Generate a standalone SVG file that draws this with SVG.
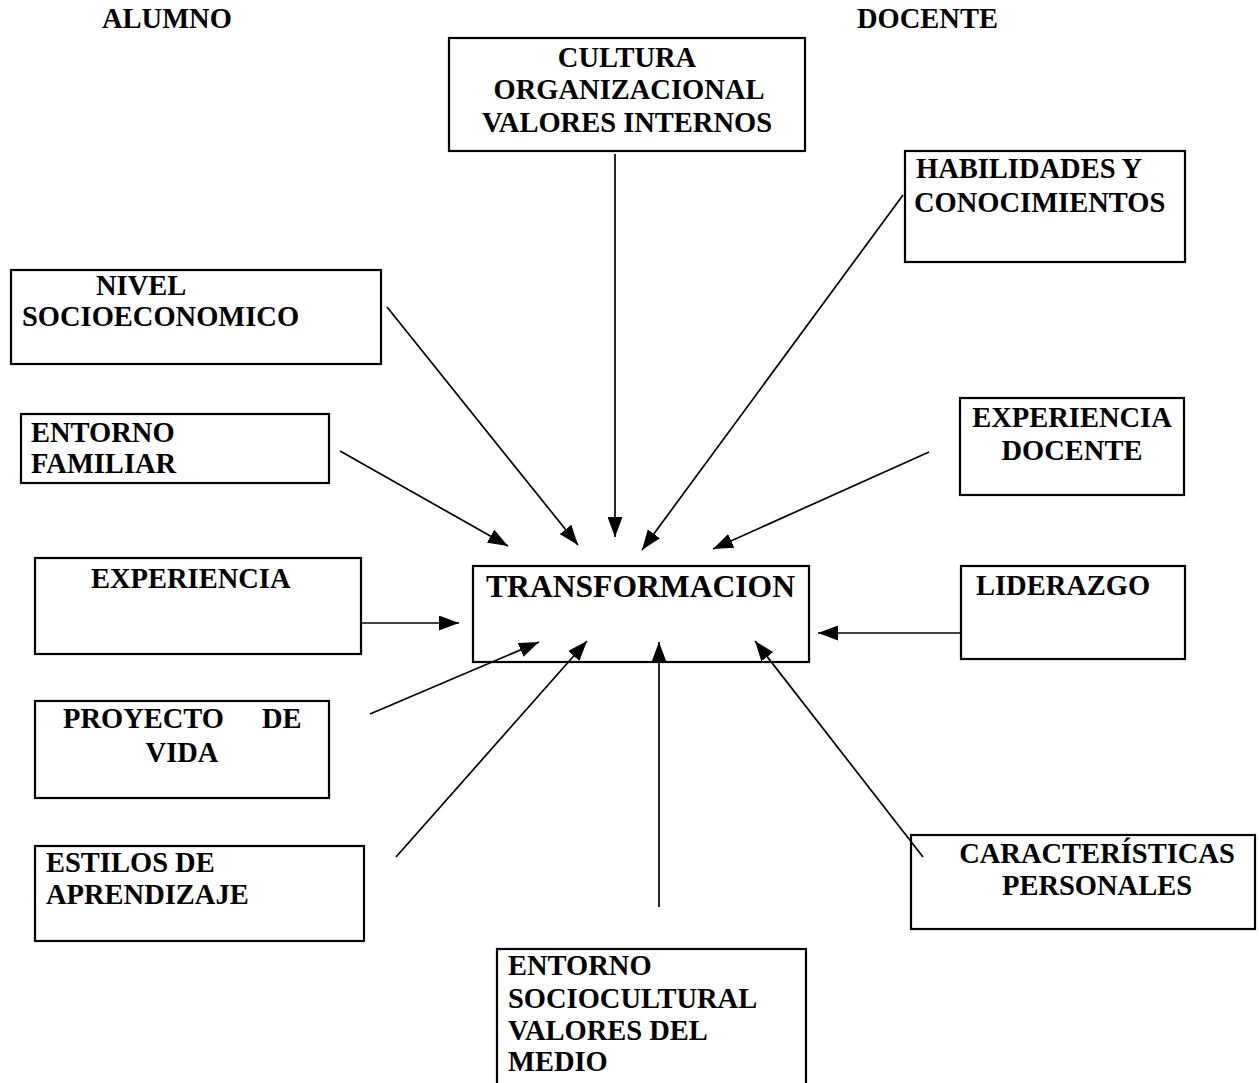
<svg xmlns="http://www.w3.org/2000/svg" width="1259" height="1083" viewBox="0 0 1259 1083">
<style>
.box{fill:#fff;stroke:#000;stroke-width:2.2}
.t{font-family:"Liberation Serif","Times New Roman",serif;font-weight:bold;font-size:28.5px;fill:#000}
.m{text-anchor:middle}
.c{stroke:#000;stroke-width:1.7;fill:none;marker-end:url(#ah)}
</style>
<defs>
<marker id="ah" viewBox="0 0 20 15" refX="20" refY="7.5" markerWidth="20" markerHeight="15" markerUnits="userSpaceOnUse" orient="auto">
<path d="M0,0 L20,7.5 L0,15 z" fill="#000"/>
</marker>
</defs>
<rect width="1259" height="1083" fill="#fff"/>
<text class="t" x="102" y="28">ALUMNO</text>
<text class="t" x="857" y="28">DOCENTE</text>
<g id="cultura"><rect class="box" x="449" y="38" width="356" height="113"/>
<text class="t m" x="627" y="67">CULTURA</text><text class="t m" x="629" y="99">ORGANIZACIONAL</text><text class="t m" x="627" y="132">VALORES INTERNOS</text></g>
<g id="habilidades"><rect class="box" x="905" y="151" width="280" height="111"/>
<text class="t" x="916" y="178">HABILIDADES Y</text><text class="t" x="914" y="212">CONOCIMIENTOS</text></g>
<g id="nivel"><rect class="box" x="11" y="270" width="370" height="94"/>
<text class="t" x="96" y="295">NIVEL</text><text class="t" x="22" y="326">SOCIOECONOMICO</text></g>
<g id="familiar"><rect class="box" x="21" y="414" width="308" height="69"/>
<text class="t" x="31" y="442">ENTORNO</text><text class="t" x="31" y="473">FAMILIAR</text></g>
<g id="expdocente"><rect class="box" x="960" y="398" width="224" height="97"/>
<text class="t m" x="1072" y="427">EXPERIENCIA</text><text class="t m" x="1072" y="460">DOCENTE</text></g>
<g id="experiencia"><rect class="box" x="35" y="558" width="326" height="96"/>
<text class="t" x="91" y="588">EXPERIENCIA</text></g>
<g id="transformacion"><rect class="box" x="473" y="566" width="336" height="96"/>
<text class="t" x="486" y="597" style="font-size:31.5px" textLength="309" lengthAdjust="spacingAndGlyphs">TRANSFORMACION</text></g>
<g id="liderazgo"><rect class="box" x="961" y="566" width="224" height="93"/>
<text class="t" x="976" y="595">LIDERAZGO</text></g>
<g id="proyecto"><rect class="box" x="35" y="701" width="294" height="97"/>
<text class="t" x="63" y="728">PROYECTO</text><text class="t" x="262" y="728">DE</text><text class="t m" x="182" y="762">VIDA</text></g>
<g id="estilos"><rect class="box" x="35" y="846" width="329" height="95"/>
<text class="t" x="46" y="872">ESTILOS DE</text><text class="t" x="46" y="904">APRENDIZAJE</text></g>
<g id="caracteristicas"><rect class="box" x="911" y="835" width="344" height="94"/>
<text class="t m" x="1097" y="863">CARACTERÍSTICAS</text><text class="t m" x="1097" y="895">PERSONALES</text></g>
<g id="sociocultural"><rect class="box" x="497" y="949" width="309" height="150"/>
<text class="t" x="508" y="975">ENTORNO</text><text class="t" x="508" y="1008">SOCIOCULTURAL</text><text class="t" x="508" y="1040">VALORES DEL</text><text class="t" x="508" y="1071">MEDIO</text></g>
<g id="connectors">
<line class="c" x1="387" y1="307" x2="578" y2="545"/>
<line class="c" x1="340" y1="451" x2="508" y2="546"/>
<line class="c" x1="615" y1="154" x2="615" y2="537"/>
<line class="c" x1="903" y1="195" x2="642" y2="550"/>
<line class="c" x1="929" y1="452" x2="713" y2="549"/>
<line class="c" x1="362" y1="623" x2="459" y2="623"/>
<line class="c" x1="961" y1="633" x2="818" y2="633"/>
<line class="c" x1="370" y1="714" x2="539" y2="642"/>
<line class="c" x1="396" y1="857" x2="587" y2="641"/>
<line class="c" x1="659" y1="907" x2="659" y2="642"/>
<line class="c" x1="923" y1="857" x2="755" y2="641"/>
</g>
</svg>
